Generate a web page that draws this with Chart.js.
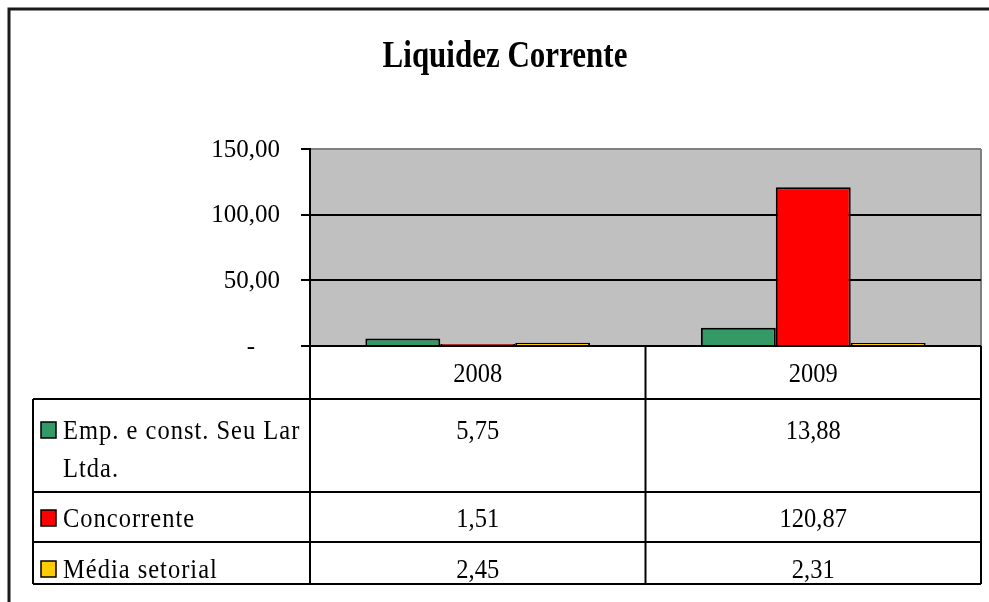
<!DOCTYPE html>
<html>
<head>
<meta charset="utf-8">
<script src="https://cdn.jsdelivr.net/npm/chart.js@4.4.1/dist/chart.umd.min.js"></script>
<style>
    html, body { margin: 0; padding: 0; background: #fff; }
    #wrap { width: 989px; height: 602px; }
</style>
</head>
<body>
<div id="wrap"><canvas id="liquidezChart" width="989" height="602"></canvas></div>
<script>
const categories = ['2008', '2009'];
const seriesLabels = [['Emp. e const. Seu Lar', 'Ltda.'], ['Concorrente'], ['Média setorial']];
const empresaValues = [5.75, 13.88];
const concorrenteValues = [1.51, 120.87];
const mediaValues = [2.45, 2.31];
const seriesColors = ['#339966', '#FF0000', '#FFCC00'];
const yTickLabels = ['-', '50,00', '100,00', '150,00'];
const chartTitle = 'Liquidez Corrente';

const seriesValues = [empresaValues, concorrenteValues, mediaValues];
const FONT = '"Liberation Serif", "Times New Roman", serif';

const formatValue = (value) => value.toFixed(2).replace('.', ',');

// Excel renders the text a bit taller than it is wide
const drawText = (ctx, text, x, y, opts) => {
    const { align = 'left', size = 24.5, bold = false, stretch = 1.1, spacing = 0 } = opts || {};
    ctx.save();
    ctx.font = `${bold ? 'bold ' : ''}${size}px ${FONT}`;
    ctx.letterSpacing = `${spacing}px`;
    ctx.fillStyle = '#000';
    ctx.textAlign = align;
    ctx.textBaseline = 'alphabetic';
    ctx.translate(x, y);
    ctx.scale(1, stretch);
    ctx.fillText(text, 0, 0);
    ctx.restore();
};

const line = (ctx, x1, y1, x2, y2) => {
    ctx.beginPath();
    ctx.moveTo(x1, y1);
    ctx.lineTo(x2, y2);
    ctx.stroke();
};

const plotBackground = {
    id: 'plotBackground',
    beforeDraw(chart) {
        const { ctx, chartArea: a } = chart;
        ctx.save();
        ctx.fillStyle = '#C0C0C0';
        ctx.fillRect(a.left, a.top, a.right - a.left, a.bottom - a.top);
        ctx.strokeStyle = '#808080';
        ctx.lineWidth = 2;
        line(ctx, a.left, a.top, a.right, a.top);
        line(ctx, a.right, a.top, a.right, a.bottom);
        ctx.restore();
    },
};

const dataTable = {
    id: 'dataTable',
    afterDraw(chart) {
        const { ctx, chartArea: a } = chart;
        const xs = chart.scales.x;
        const c1 = (xs.getPixelForValue(0) + xs.getPixelForValue(1)) / 2;
        const colEdges = [a.left, c1, a.right];
        const tableLeft = 33;
        const rowEdges = [a.bottom, 399, 492, 542, 584];

        ctx.save();

        // outer frame of the chart object
        ctx.strokeStyle = '#1a1a1a';
        ctx.lineWidth = 3;
        ctx.beginPath();
        ctx.moveTo(9, 602);
        ctx.lineTo(9, 9);
        ctx.lineTo(989, 9);
        ctx.stroke();

        drawText(ctx, chartTitle, 505, 67, { align: 'center', size: 31, bold: true, stretch: 1.2 });

        ctx.strokeStyle = '#000';
        ctx.lineWidth = 2;
        for (let r = 1; r < rowEdges.length; r++) {
            line(ctx, tableLeft, rowEdges[r], a.right, rowEdges[r]);
        }
        line(ctx, tableLeft, rowEdges[1], tableLeft, rowEdges[4]);
        colEdges.forEach((x) => line(ctx, x, a.bottom, x, rowEdges[4]));

        // header with categories
        categories.forEach((cat, i) => {
            const cx = (colEdges[i] + colEdges[i + 1]) / 2;
            drawText(ctx, cat, cx, 382, { align: 'center' });
        });

        const baselines = [439, 527, 578];
        seriesLabels.forEach((lines, s) => {
            const base = baselines[s];
            ctx.fillStyle = seriesColors[s];
            ctx.fillRect(41, base - 17, 15, 16);
            ctx.strokeStyle = '#000';
            ctx.lineWidth = 1.5;
            ctx.strokeRect(41, base - 17, 15, 16);
            lines.forEach((txt, k) => drawText(ctx, txt, 63, base + k * 38, { spacing: 1 }));
            seriesValues[s].forEach((v, i) => {
                const cx = (colEdges[i] + colEdges[i + 1]) / 2;
                drawText(ctx, formatValue(v), cx, base, { align: 'center' });
            });
        });

        ctx.restore();
    },
};

const ctx = document.getElementById('liquidezChart');

new Chart(ctx, {
    type: 'bar',
    data: {
        labels: categories,
        datasets: seriesValues.map((values, s) => ({
            label: seriesLabels[s].join(' '),
            data: values,
            backgroundColor: seriesColors[s],
            borderColor: '#000',
            borderWidth: 2,
            categoryPercentage: 0.67,
            barPercentage: 1,
        })),
    },
    options: {
        responsive: false,
        animation: false,
        events: [],
        layout: {
            padding: { top: 149, right: 8, bottom: 256, left: 0 },
        },
        plugins: {
            legend: { display: false },
            title: { display: false },
            tooltip: { enabled: false },
        },
        scales: {
            x: {
                grid: { display: false },
                border: { display: false },
                ticks: { display: false },
                afterFit: (scale) => { scale.height = 0; },
            },
            y: {
                min: 0,
                max: 150,
                afterFit: (scale) => { scale.width = 310; },
                ticks: {
                    stepSize: 50,
                    padding: 21,
                    labelOffset: 1,
                    color: '#000',
                    font: { family: FONT, size: 25 },
                    callback: (value) => {
                        const label = yTickLabels[Math.round(value / 50)];
                        return label === '-' ? label + '\u2003' : label;
                    },
                },
                grid: {
                    color: (c) => (c.tick && c.tick.value === 150 ? '#808080' : '#000'),
                    lineWidth: 2,
                    tickLength: 9,
                    tickColor: '#000',
                },
                border: { color: '#000', width: 2 },
            },
        },
    },
    plugins: [plotBackground, dataTable],
});
</script>
</body>
</html>
